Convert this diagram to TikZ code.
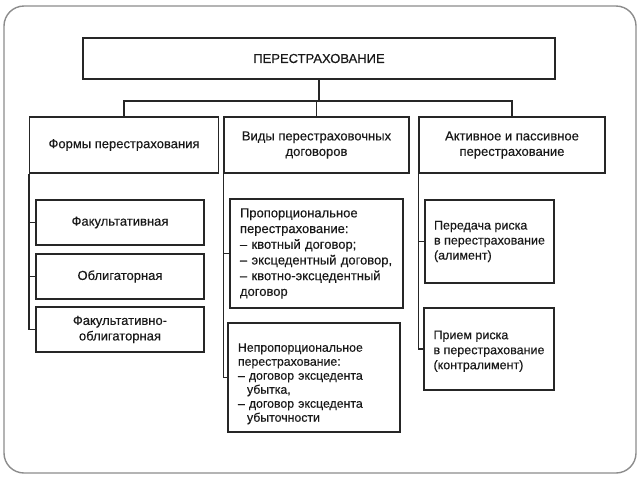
\documentclass[tikz,border=0pt]{standalone}
\usepackage{fontspec}
\setmainfont{Liberation Sans}[BoldFont=Liberation Sans, BoldFeatures={FakeBold=0.35}]
\begin{document}
\begin{tikzpicture}[x=1pt,y=-1pt,
  frame/.style={draw=black!45, line width=1.4pt},
  box/.style={draw=black!85, line width=1.2pt, inner sep=0pt, align=center,
    font=\fontsize{13}{15.5}\selectfont\bfseries, text=black!90},
  lbox/.style={box, align=left, inner xsep=10pt},
  rbox/.style={box, align=left, inner xsep=7pt, font=\fontsize{12.5}{15}\selectfont\bfseries},
  conn/.style={draw=black!85, line width=1.2pt}]
\useasboundingbox (0,0) rectangle (640,480);
\draw[frame, rounded corners=20pt] (4,6) rectangle (636,473);
% top
\node[box, minimum width=472pt, minimum height=41pt] (top) at (319,58.5) {ПЕРЕСТРАХОВАНИЕ};
% level 2
\node[box, minimum width=189pt, minimum height=56pt] (b1) at (124,145) {Формы перестрахования};
\node[box, minimum width=185pt, minimum height=56pt] (b2) at (316.5,145) {Виды перестраховочных\\договоров};
\node[box, minimum width=186pt, minimum height=56pt] (b3) at (512,145) {Активное и пассивное\\перестрахование};
% left column
\node[box, minimum width=168pt, minimum height=45pt] (f1) at (120,222.5) {Факультативная};
\node[box, minimum width=168pt, minimum height=45pt] (f2) at (120,276.5) {Облигаторная};
\node[box, minimum width=168pt, minimum height=45pt] (f3) at (120,329.5) {Факультативно-\\облигаторная};
% middle column
\node[lbox, text width=153pt, minimum height=109pt, font=\fontsize{13}{15.7}\selectfont\bfseries] (p1) at (316.5,253.5)
  {Пропорциональное\\перестрахование:\\– квотный договор;\\– эксцедентный договор,\\– квотно-эксцедентный\\договор};
\node[lbox, text width=152pt, minimum height=109pt, font=\fontsize{12.3}{14}\selectfont\bfseries] (p2) at (314,377.5)
  {\rule{0pt}{21pt}Непропорциональное\\перестрахование:\\– договор эксцедента\\\hspace*{9pt}убытка,\\– договор эксцедента\\\hspace*{9pt}убыточности};
% right column
\node[rbox, minimum width=129pt, minimum height=83pt] (r1) at (489.5,241.5)
  {Передача риска\\в перестрахование\\(алимент)};
\node[rbox, minimum width=130pt, minimum height=82pt] (r2) at (489,349)
  {\rule{0pt}{13pt}Прием риска\\в перестрахование\\(контралимент)};
% connectors
\coordinate (bus) at (319,101);
\draw[conn] (top.south) -- (bus);
\draw[conn] (b1.north) |- (bus) -| (b3.north);
\draw[conn] (b2.north |- bus) -- (b2.north);
\draw[conn] (b1.south west) |- (f3.west);
\draw[conn] (b1.south west |- f1.west) -- (f1.west);
\draw[conn] (b1.south west |- f2.west) -- (f2.west);
\draw[conn] (b2.south west) |- (p2.west);
\draw[conn] (b2.south west |- p1.west) -- (p1.west);
\draw[conn] (b3.south west) |- (r2.west);
\draw[conn] (b3.south west |- r1.west) -- (r1.west);
\end{tikzpicture}
\end{document}
